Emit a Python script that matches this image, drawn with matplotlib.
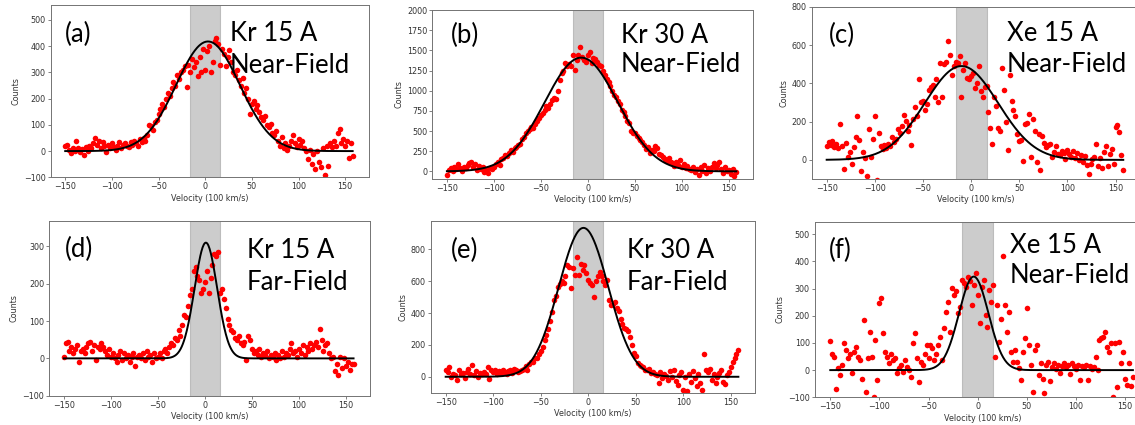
import numpy as np
import matplotlib.pyplot as plt

# velocity samples shared by every spectrum (units of 100 km/s)
velocity = np.arange(-150, 160, 2)

counts_a = [18, 25, 5, -8, 10, 2, 40, 12, -5, 8,
            -15, 15, 0, 20, 10, 30, 50, 25, 40, 10,
            35, 20, -5, 25, 10, 30, 15, 5, 20, 35,
            10, 25, 30, 20, 15, 35, 25, 40, 30, 20,
            45, 35, 50, 40, 60, 100, 95, 80, 110, 120,
            140, 160, 180, 170, 200, 220, 210, 240, 265, 250,
            290, 275, 300, 310, 325, 245, 330, 300, 350, 320,
            340, 285, 360, 300, 390, 310, 380, 400, 300, 340,
            420, 430, 410, 330, 390, 370, 325, 360, 385, 340,
            300, 290, 310, 270, 250, 280, 220, 240, 200, 140,
            180, 190, 160, 175, 150, 130, 120, 135, 100, 90,
            105, 70, 60, 75, 40, 20, 55, 10, 30, 5,
            20, 40, 60, 30, 15, 45, 25, 40, 10, 0,
            -30, 5, -50, -10, -70, 0, -40, -60, 10, -90,
            20, -55, 30, 15, 40, 20, 70, 85, 30, 45,
            20, 40, -25, 30, -20]

counts_b = [-40, 20, 40, 5, 60, 30, 95, 45, 10, 55,
            40, 75, 100, 110, 60, 85, 20, 70, 30, 50,
            -10, 15, -25, 40, 30, 60, 95, 110, 80, 150,
            170, 200, 185, 230, 260, 240, 290, 300, 330, 345,
            400, 430, 470, 500, 520, 545, 540, 590, 620, 660,
            700, 720, 760, 810, 790, 840, 880, 910, 900, 1000,
            1130, 1220, 1250, 1340, 1310, 1330, 1300, 1440, 1260, 1380,
            1440, 1545, 1420, 1380, 1360, 1440, 1480, 1340, 1410, 1390,
            1350, 1320, 1300, 1250, 1200, 1150, 1110, 1060, 1000, 950,
            920, 870, 830, 760, 740, 690, 630, 600, 500, 480,
            470, 440, 410, 390, 360, 330, 280, 300, 230, 260,
            250, 320, 290, 210, 200, 180, 150, 130, 160, 110,
            100, 70, 120, 80, 140, 60, 90, 40, 65, 30,
            20, 50, -10, 30, -40, 60, 10, 80, -20, 40,
            10, 60, 100, 40, 80, 120, 30, -20, 50, 10,
            20, -30, 30, -60, -5]

counts_c = [70, 95, 80, 100, 65, 85, 60, 185, 75, -50,
            90, 15, 40, -20, 65, 120, 230, 105, -60, 40,
            10, -85, 160, 15, 110, 230, -105, 140, 70, 55,
            80, 60, 85, 75, 120, 95, 110, 160, 140, 175,
            235, 205, 150, 180, 80, 215, 275, 230, 425, 300,
            310, 260, 290, 365, 380, 390, 330, 420, 300, 505,
            330, 500, 510, 620, 550, 445, 490, 510, 505, 540,
            330, 470, 505, 430, 420, 440, 455, 375, 400, 490,
            360, 330, 380, 385, 250, 165, 85, 330, 280, 165,
            150, 480, 365, 200, 50, 445, 310, 260, 230, 135,
            100, 105, -5, 185, 190, 240, 15, 215, 150, -10,
            135, -55, 125, 90, 65, 80, 85, 15, 40, 70,
            30, 25, 45, 35, 5, 50, 30, 15, 45, 10,
            35, 0, 25, -10, 20, -25, -75, -20, 5, 15,
            85, -30, 10, -40, 40, 75, -30, 30, 55, -20,
            170, 180, 145, 25, -55]

counts_d = [5, 40, 45, 20, 30, 15, 25, 35, -10, 20,
            25, 15, 30, 40, 45, 20, 35, -5, 30, 25,
            40, 30, 20, 10, 25, 5, 15, 0, -10, 10,
            20, -5, 15, 0, 10, -10, 5, 15, -20, 5,
            10, 0, 15, -5, 20, 5, 10, -10, 15, 0,
            5, 15, 0, 20, 25, 15, 30, 40, 35, 55,
            50, 75, 60, 90, 115, 110, 140, 170, 185, 235,
            245, 220, 210, 175, 185, 205, 235, 175, 215, 250,
            280, 275, 285, 175, 185, 160, 135, 105, 90, 75,
            70, 55, 50, 60, 40, 35, 45, -5, 60, 50,
            25, 15, 20, 10, 25, 5, 15, 10, 20, 0,
            10, 5, 15, -5, 10, 0, 20, 5, 15, 10,
            25, 40, 15, 20, 5, 25, 15, 35, 10, 30,
            20, 40, 25, 35, 45, 30, 80, 50, 20, 35,
            40, 15, 0, 5, -35, -15, -45, 5, -25, 0,
            -20, -10, -30, -15, -15]

counts_e = [45, 30, 60, 0, 20, 10, -20, 40, 15, 25,
            -10, 30, 50, 20, 75, 10, 35, 0, 25, 15,
            30, 20, 60, -15, 40, 30, 45, 20, 35, 25,
            40, 30, 20, 35, 45, 25, 50, 40, 30, 35,
            45, 50, 65, 40, 80, 95, 90, 120, 115, 140,
            160, 190, 230, 265, 300, 350, 405, 480, 510, 565,
            580, 600, 590, 630, 700, 690, 555, 680, 640, 750,
            640, 710, 670, 700, 650, 610, 590, 575, 500, 600,
            630, 660, 630, 600, 575, 610, 480, 450, 460, 470,
            430, 410, 360, 330, 305, 300, 290, 250, 200, 150,
            130, 85, 75, 70, 60, 45, 40, 50, 25, 30,
            20, 10, -40, 30, -10, 20, 5, -20, 35, 0,
            45, -25, -50, 10, 30, -80, 0, -90, 20, -30,
            35, -10, -60, 15, -40, -80, 145, 40, 30, 50,
            -20, 20, -40, 0, 25, 45, -35, -45, 10, 30,
            60, 90, 115, 140, 170]

counts_f = [107, 61, 50, -68, 6, -18, 18, 98, 74, 43,
            61, -12, 68, 86, 49, 37, -31, 184, -80, 43,
            141, 49, -98, 110, -37, 246, 264, 135, 68, 49,
            25, 61, 37, 43, -12, 6, 18, -6, 37, 10,
            0, -25, 98, 135, 43, -43, 31, 18, 60, 92,
            43, 92, 80, 37, 60, 92, 123, 37, 154, 215,
            252, 141, 301, 276, 290, 209, 233, 332, 319, 307,
            344, 326, 240, 313, 356, 276, 172, 307, 332, 203,
            160, 295, 252, 313, 49, 240, 104, 187, 420, 240,
            141, 215, 68, 31, 74, 31, 6, -37, 68, 117,
            230, 92, 18, -80, 74, 92, -18, 25, -31, -86,
            18, 31, -40, 10, 25, 5, 20, -10, 15, 25,
            10, 20, -15, 25, 15, 5, 20, -37, 15, 10,
            20, -37, 15, 5, 10, 49, 0, 110, 117, 123,
            141, 86, 68, 100, -98, 98, -61, 104, 25, 68,
            -31, -55, 25, -60, -25]

# gaussian fit parameters: amplitude, centre, sigma
fit_a = [418, 3, 34]
fit_b = [1410, -7, 39]
fit_c = [490, -10, 38]
fit_d = [310, 1, 12]
fit_e = [935, -5, 26]
fit_f = [344, -4, 15]

panel_tags = ["(a)", "(b)", "(c)", "(d)", "(e)", "(f)"]
panel_titles = [("Kr 15 A", "Near-Field"), ("Kr 30 A", "Near-Field"),
                ("Xe 15 A", "Near-Field"), ("Kr 15 A", "Far-Field"),
                ("Kr 30 A", "Far-Field"), ("Xe 15 A", "Near-Field")]
y_limits = [(-100, 557), (-95, 2000), (-100, 800),
            (-100, 368), (-100, 980), (-100, 546)]
y_ticks = [np.arange(-100, 501, 100), np.arange(0, 2001, 250),
           np.arange(0, 801, 200), np.arange(-100, 301, 100),
           np.arange(0, 801, 200), np.arange(-100, 501, 100)]
window = (-16, 16)


def gaussian(x, amp, mu, sig):
    return amp * np.exp(-(x - mu) ** 2 / (2 * sig ** 2))


fig = plt.figure(figsize=(11.35, 4.25), dpi=100)

rects = [[0.0447, 0.5828, 0.2804, 0.4054],
         [0.3809, 0.5788, 0.2823, 0.3976],
         [0.7152, 0.5788, 0.2893, 0.4054],
         [0.0434, 0.0689, 0.2826, 0.4111],
         [0.3797, 0.0760, 0.2855, 0.4047],
         [0.7181, 0.0652, 0.2952, 0.4132]]
# (tag x, tag y, title x, first line y, second line y) in axes fraction
text_pos = [(0.045, 0.787, 0.563, 0.791, 0.607),
            (0.058, 0.807, 0.589, 0.807, 0.635),
            (0.051, 0.788, 0.594, 0.801, 0.623),
            (0.049, 0.796, 0.616, 0.786, 0.605),
            (0.062, 0.785, 0.604, 0.785, 0.597),
            (0.040, 0.792, 0.582, 0.820, 0.649)]

all_counts = [counts_a, counts_b, counts_c, counts_d, counts_e, counts_f]
all_fits = [fit_a, fit_b, fit_c, fit_d, fit_e, fit_f]
xs = np.linspace(velocity[0], velocity[-1], 500)
big = dict(fontsize=18.5, family=['Lato', 'DejaVu Sans'], va='baseline', zorder=4)

for i in range(6):
    ax = fig.add_axes(rects[i])
    ax.axvspan(window[0], window[1], color='0.5', alpha=0.4, lw=0.8, zorder=1)
    ax.scatter(velocity, all_counts[i], s=16, color='red', lw=0, zorder=2)
    ax.plot(xs, gaussian(xs, *all_fits[i]), color='black', lw=1.4, zorder=3)
    ax.set_xlim(-165.5, 175.5)
    ax.set_ylim(*y_limits[i])
    ax.set_xticks(np.arange(-150, 151, 50))
    ax.set_yticks(y_ticks[i])
    ax.tick_params(labelsize=5.8, length=2.2, width=0.5, pad=1.5,
                   color='0.3', labelcolor='0.2')
    for sp in ax.spines.values():
        sp.set_linewidth(0.7)
        sp.set_color('0.45')
    ax.set_xlabel("Velocity (100 km/s)", fontsize=5.8, labelpad=1.5, color='0.2')
    ax.set_ylabel("Counts", fontsize=5.8, labelpad=2.5, color='0.2')

    tx, ty, hx, h1, h2 = text_pos[i]
    ax.text(tx, ty, panel_tags[i], transform=ax.transAxes, **big)
    ax.text(hx, h1, panel_titles[i][0], transform=ax.transAxes, **big)
    ax.text(hx, h2, panel_titles[i][1], transform=ax.transAxes, **big)

fig.savefig("out.png", dpi=100)
